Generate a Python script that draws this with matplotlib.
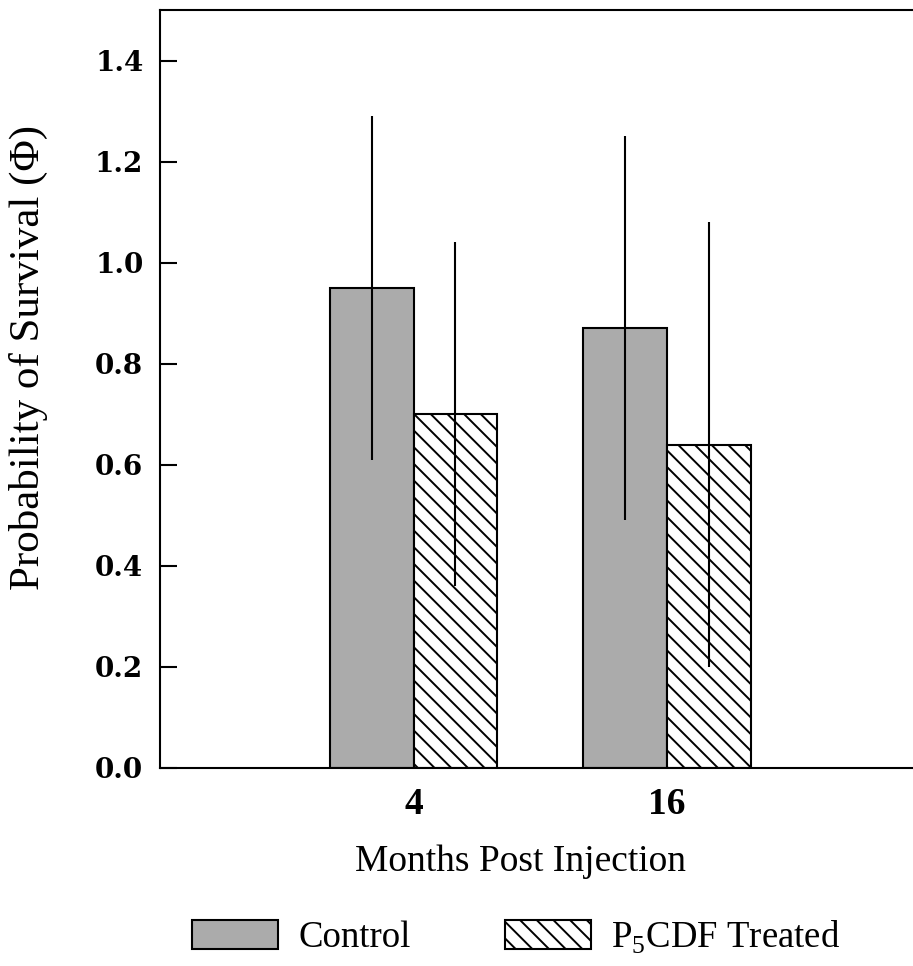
import numpy as np
import matplotlib
matplotlib.use("Agg")
import matplotlib.pyplot as plt
from matplotlib.patches import Patch

plt.rcParams['font.family'] = ['Liberation Serif', 'DejaVu Serif']
plt.rcParams['mathtext.fontset'] = 'custom'
plt.rcParams['mathtext.rm'] = 'Liberation Serif'
plt.rcParams['hatch.linewidth'] = 1.4

# survival estimates and standard errors
months = ['4', '16']
control = [0.95, 0.87]
control_err = [0.34, 0.38]
treated = [0.70, 0.64]
treated_err = [0.34, 0.44]

fig = plt.figure(figsize=(9.13, 9.66), dpi=100)
ax = fig.add_axes([160 / 913, 1 - 768 / 966, (913 - 160) / 913, (768 - 10) / 966])

x = np.arange(1, len(months) + 1)
w = 0.33
gray = '#ababab'

ax.bar(x - w / 2, control, w, color=gray, edgecolor='black', linewidth=1.5, zorder=2)
ax.bar(x + w / 2, treated, w, color='white', edgecolor='black', linewidth=1.5,
       hatch='\\\\', zorder=2)
ax.errorbar(x - w / 2, control, yerr=control_err, fmt='none', ecolor='black',
            elinewidth=1.5, capsize=0, zorder=3)
ax.errorbar(x + w / 2, treated, yerr=treated_err, fmt='none', ecolor='black',
            elinewidth=1.5, capsize=0, zorder=3)

ax.set_xlim(0, 2.97)
ax.set_ylim(0, 1.5)
ax.set_xticks(x)
ax.set_xticklabels(months, fontsize=27, fontweight='bold')
ax.tick_params(axis='x', length=0, pad=14)

yt = np.arange(0, 1.41, 0.2)
ax.set_yticks(yt)
ax.set_yticklabels([f'{v:.1f}' for v in yt], fontsize=20, fontweight='bold',
                   family='DejaVu Serif')
ax.tick_params(axis='y', direction='in', length=12, width=1.5, pad=12)

ax.spines['right'].set_visible(False)
for s in ['left', 'top', 'bottom']:
    ax.spines[s].set_linewidth(1.5)

fig.text(28 / 913, 1 - 357 / 966, 'Probability of Survival (\u03a6)', rotation=90,
         ha='center', va='center', fontsize=31)
fig.text(520 / 913, 1 - 862 / 966, 'Months Post Injection', ha='center',
         va='center', fontsize=27)

handles = [Patch(facecolor=gray, edgecolor='black', linewidth=1.5, label='Control'),
           Patch(facecolor='white', edgecolor='black', linewidth=1.5, hatch='\\\\',
                 label=r'P$_\mathrm{5}$CDF Treated')]
fig.legend(handles=handles, loc='center', bbox_to_anchor=(516 / 913, 1 - 937 / 966),
           ncol=2, frameon=False, fontsize=26.5, handlelength=2.35, handleheight=0.8,
           handletextpad=0.55, columnspacing=2.55)

fig.savefig('out.png', dpi=100)
